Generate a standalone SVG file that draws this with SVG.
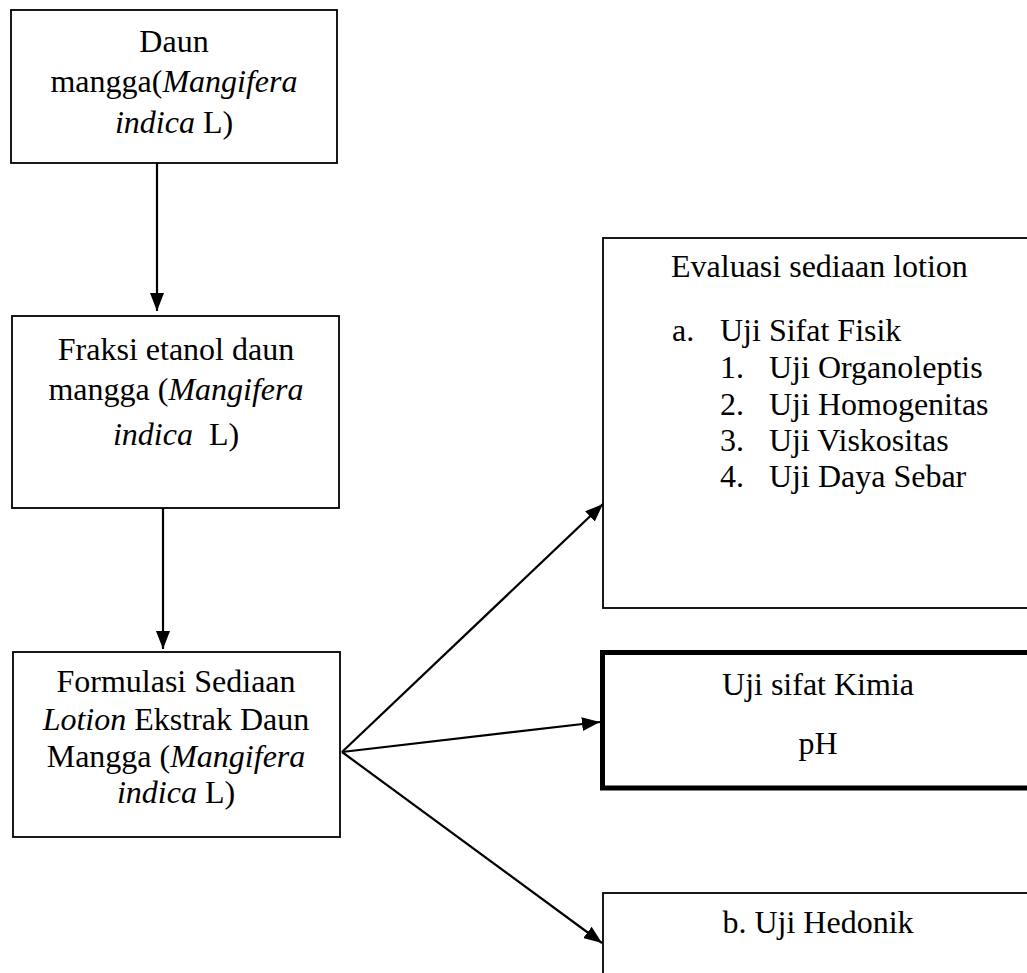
<svg xmlns="http://www.w3.org/2000/svg" width="1027" height="973" viewBox="0 0 1027 973">
<style>
text{font-family:"Liberation Serif","Times New Roman",serif;font-size:32px;fill:#000}
.c{text-anchor:middle}
.i{font-style:italic}
.box{fill:#fff;stroke:#000;stroke-width:1.8}
.thick{fill:#fff;stroke:#000;stroke-width:5}
.conn line{stroke:#000;stroke-width:2.2}
</style>
<defs>
<marker id="ah" viewBox="0 0 18 14" refX="18" refY="7" markerWidth="18" markerHeight="14" markerUnits="userSpaceOnUse" orient="auto">
<path d="M0,0 L18,7 L0,14 Z" fill="#000"/>
</marker>
</defs>
<rect width="1027" height="973" fill="#fff"/>
<g id="n1">
<rect class="box" x="11" y="10" width="326" height="153"/>
<text class="c" x="174" y="52">Daun</text>
<text class="c" x="174" y="92">mangga(<tspan class="i">Mangifera</tspan></text>
<text class="c" x="174" y="133"><tspan class="i">indica</tspan> L)</text>
</g>
<g id="n2">
<rect class="box" x="12" y="316" width="327" height="192"/>
<text class="c" x="176" y="360">Fraksi etanol daun</text>
<text class="c" x="176" y="400">mangga (<tspan class="i">Mangifera</tspan></text>
<text class="c" x="176" y="445" xml:space="preserve"><tspan class="i">indica</tspan>  L)</text>
</g>
<g id="n3">
<rect class="box" x="13" y="652" width="327" height="185"/>
<text class="c" x="176" y="692">Formulasi Sediaan</text>
<text class="c" x="176" y="730"><tspan class="i">Lotion</tspan> Ekstrak Daun</text>
<text class="c" x="176" y="767">Mangga (<tspan class="i">Mangifera</tspan></text>
<text class="c" x="176" y="803"><tspan class="i">indica</tspan> L)</text>
</g>
<g id="n4">
<rect class="box" x="603" y="238" width="440" height="370"/>
<text x="671" y="277">Evaluasi sediaan lotion</text>
<text x="672" y="341">a.</text><text x="720" y="341">Uji Sifat Fisik</text>
<text x="720" y="378">1.</text><text x="769" y="378">Uji Organoleptis</text>
<text x="720" y="415">2.</text><text x="769" y="415">Uji Homogenitas</text>
<text x="720" y="451">3.</text><text x="769" y="451">Uji Viskositas</text>
<text x="720" y="487">4.</text><text x="769" y="487">Uji Daya Sebar</text>
</g>
<g id="n5">
<rect class="thick" x="602.5" y="652.5" width="440" height="135.5"/>
<text class="c" x="818" y="695">Uji sifat Kimia</text>
<text class="c" x="818" y="754">pH</text>
</g>
<g id="n6">
<rect class="box" x="603" y="893" width="440" height="100"/>
<text class="c" x="818" y="933">b. Uji Hedonik</text>
</g>
<g id="connectors" class="conn">
<line x1="157" y1="163" x2="157" y2="311" marker-end="url(#ah)"/>
<line x1="163" y1="508" x2="163" y2="649" marker-end="url(#ah)"/>
<line x1="342" y1="752" x2="603" y2="504" marker-end="url(#ah)"/>
<line x1="342" y1="752" x2="600" y2="722" marker-end="url(#ah)"/>
<line x1="342" y1="752" x2="602" y2="943" marker-end="url(#ah)"/>
</g>
</svg>
